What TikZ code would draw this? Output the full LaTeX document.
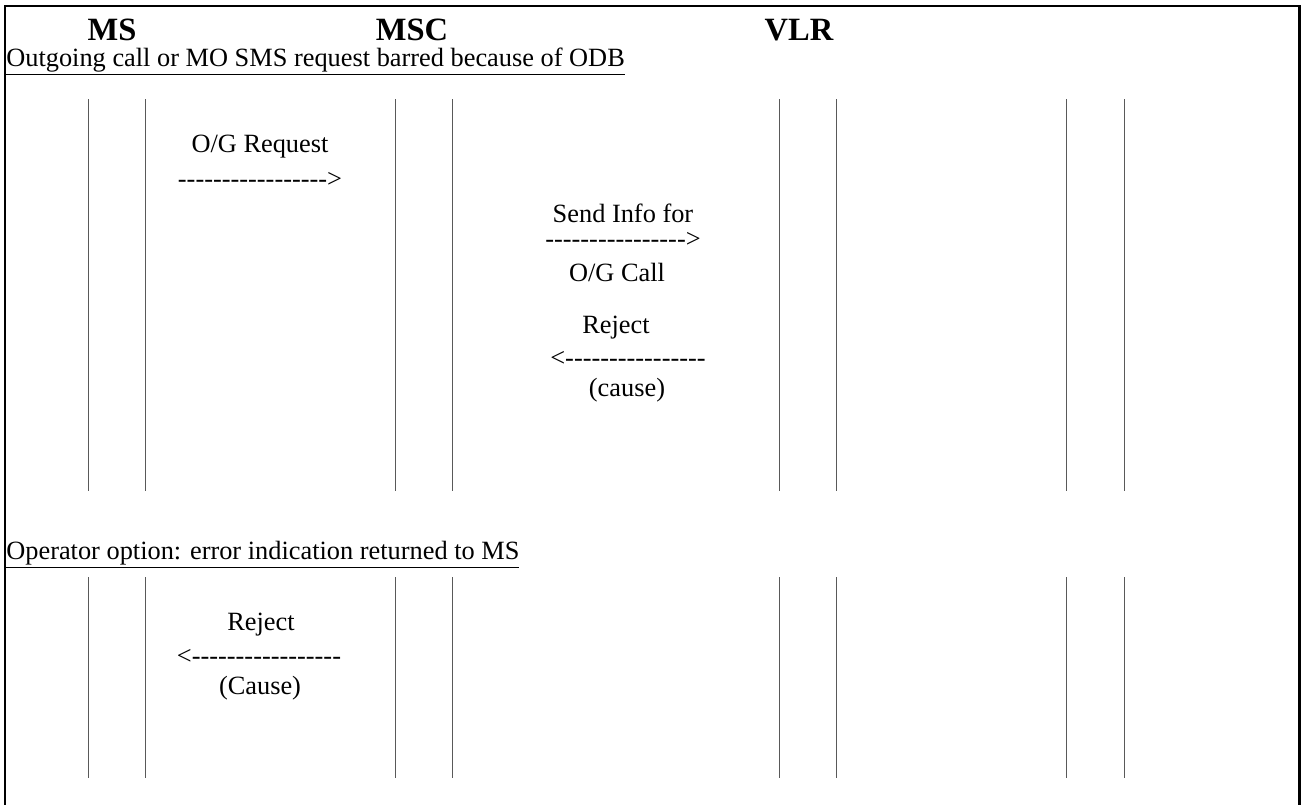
\documentclass[tikz,border=0pt]{standalone}
\usepackage{fontspec}
\setmainfont{Liberation Serif}[Ligatures=TeXOff]
\tikzset{
  entity/.style={font=\fontsize{18.5}{21}\selectfont\bfseries},
  msg/.style={font=\fontsize{15}{17}\selectfont, align=center, inner sep=0pt},
  note/.style={font=\fontsize{15}{17}\selectfont, anchor=base west, inner sep=0pt},
  life/.style={black!65, line width=0.5pt}
}
\begin{document}
\begin{tikzpicture}[x=0.02cm, y=-0.02cm]
      \useasboundingbox (0,0) rectangle (1303,805);
      \draw[line width=1.7pt] (5,805) -- (5,6) -- (1299,6) -- (1299,805);
      \draw
        (112,30) node[entity] (ms){MS}
        (412,30) node[entity] (msc){MSC}
        (799,30) node[entity] (vlr){VLR}
        (6,66) node[note] (odb){\underline{Outgoing call or MO SMS request barred because of ODB}}
        (6,559) node[note] (opt){\underline{Operator option: error indication returned to MS}};
      \begin{scope}[life]
        \draw (88,99) -- (88,491);
        \draw (145,99) -- (145,491);
        \draw (395,99) -- (395,491);
        \draw (452,99) -- (452,491);
        \draw (779,99) -- (779,491);
        \draw (836,99) -- (836,491);
        \draw (1066,99) -- (1066,491);
        \draw (1124,99) -- (1124,491);
        \draw (88,577) -- (88,778);
        \draw (145,577) -- (145,778);
        \draw (395,577) -- (395,778);
        \draw (452,577) -- (452,778);
        \draw (779,577) -- (779,778);
        \draw (836,577) -- (836,778);
        \draw (1066,577) -- (1066,778);
        \draw (1124,577) -- (1124,778);
      \end{scope}
      \draw
        (260,147) node[msg] (ogreq){O/G Request}
        (260,180) node[msg] (ogreqarr){----------------->}
        (623,213) node[msg] (sendinfo){Send Info for}
        (623,240) node[msg] (sendinfoarr){---------------->}
        (617,272) node[msg] (ogcall){O/G Call}
        (616,328) node[msg] (reject){Reject}
        (628,359) node[msg] (rejectarr){<----------------}
        (627,390) node[msg] (cause){(cause)}
        (261,625) node[msg] (msreject){Reject}
        (259,657) node[msg] (msrejectarr){<-----------------}
        (260,688) node[msg] (mscause){(Cause)};
    \end{tikzpicture}
\end{document}
